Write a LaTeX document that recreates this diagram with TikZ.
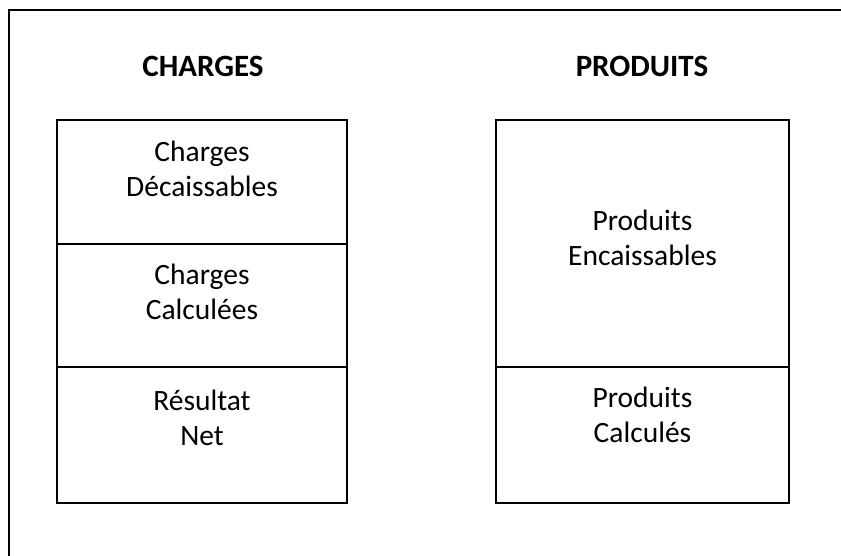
\documentclass[tikz,border=0pt]{standalone}
\usepackage{fontspec}
\setmainfont{Carlito}
\usetikzlibrary{positioning}
\tikzstyle{cell}=[draw, line width=1.8pt, rectangle, inner sep=0pt, outer sep=0pt]
\tikzstyle{celltext}=[align=center, inner sep=0pt, anchor=north, font=\fontsize{29.5}{35}\selectfont]
\tikzstyle{head}=[anchor=base, inner sep=0pt, font=\fontsize{31}{36}\selectfont\bfseries]

\begin{document}
\begin{tikzpicture}[x=1pt, y=-1pt]
\useasboundingbox (0,0) rectangle (841,556);
\draw[line width=1.8pt] (9,556) -- (9,10) -- (841,10);

\node[head] (charges) at (203,77) {CHARGES};
\node[head] (produits) at (642,77) {PRODUITS};

% colonne des charges
\node[cell, minimum width=290pt, minimum height=124pt, anchor=north west] (cdec) at (57,120) {};
\node[cell, minimum width=290pt, minimum height=123pt, below=0pt of cdec] (ccalc) {};
\node[cell, minimum width=290pt, minimum height=136pt, below=0pt of ccalc] (rnet) {};

% colonne des produits
\node[cell, minimum width=293pt, minimum height=247pt, anchor=north west] (penc) at (496,120) {};
\node[cell, minimum width=293pt, minimum height=136pt, below=0pt of penc] (pcalc) {};

\node[celltext, below=21pt of cdec.north] (tdec) {Charges\\Décaissables};
\node[celltext, below=20pt of ccalc.north] (tcalc) {Charges\\Calculées};
\node[celltext, below=23pt of rnet.north] (tnet) {Résultat\\Net};
\node[celltext, below=90pt of penc.north] (tenc) {Produits\\Encaissables};
\node[celltext, below=20pt of pcalc.north] (tpcalc) {Produits\\Calculés};

\end{tikzpicture}
\end{document}
